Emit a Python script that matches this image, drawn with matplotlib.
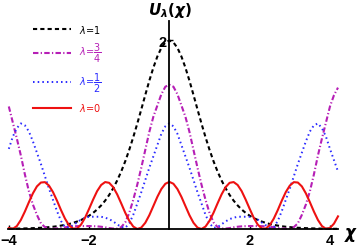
import numpy as np
import matplotlib
matplotlib.use('Agg')
from matplotlib import pyplot as plt

# chi from 0.0 to 4.2 (step 0.1); the potentials are even in chi
chi_half = np.round(np.arange(0, 4.25, 0.1), 1)

u_lam1 = [2.000, 1.980, 1.922, 1.830, 1.711, 1.573, 1.423, 1.269, 1.118, 0.974,
          0.840, 0.718, 0.610, 0.515, 0.432, 0.361, 0.301, 0.250, 0.207, 0.171,
          0.141, 0.116, 0.096, 0.079, 0.065, 0.053, 0.044, 0.036, 0.029, 0.024,
          0.020, 0.016, 0.013, 0.011, 0.009, 0.007, 0.006, 0.005, 0.004, 0.003,
          0.003, 0.002, 0.002]
u_lam34 = [1.53, 1.51, 1.43, 1.31, 1.19, 1.03, 0.84, 0.65, 0.47, 0.31,
           0.17, 0.07, 0.02, 0.005, 0.005, 0.01, 0.018, 0.024, 0.028, 0.030,
           0.031, 0.031, 0.031, 0.030, 0.028, 0.024, 0.018, 0.012, 0.006, 0.003,
           0.005, 0.02, 0.06, 0.15, 0.26, 0.40, 0.58, 0.78, 0.96, 1.13,
           1.30, 1.42, 1.50]
u_lam12 = [1.12, 1.09, 1.01, 0.89, 0.77, 0.65, 0.52, 0.39, 0.27, 0.15,
           0.06, 0.012, 0.02, 0.05, 0.08, 0.105, 0.12, 0.13, 0.13, 0.13,
           0.13, 0.117, 0.10, 0.07, 0.04, 0.015, 0.02, 0.085, 0.19, 0.31,
           0.43, 0.56, 0.69, 0.81, 0.93, 1.035, 1.10, 1.12, 1.07, 0.98,
           0.85, 0.73, 0.61]
u_lam0 = [0.500, 0.480, 0.424, 0.341, 0.243, 0.146, 0.066, 0.015, 0.000, 0.026,
          0.087, 0.173, 0.272, 0.367, 0.444, 0.490, 0.498, 0.467, 0.402, 0.312,
          0.214, 0.120, 0.047, 0.006, 0.004, 0.040, 0.110, 0.201, 0.301, 0.392,
          0.461, 0.497, 0.493, 0.452, 0.378, 0.284, 0.185, 0.096, 0.031, 0.002,
          0.011, 0.057, 0.134]

labels = [r'$\lambda$=1', r'$\lambda$=$\dfrac{3}{4}$', r'$\lambda$=$\dfrac{1}{2}$', r'$\lambda$=0']
colors = ['black', '#b61fb6', '#2a2aff', '#ee1111']
xticks = [-4, -2, 2, 4]
yticks = [2]


def mirror(half):
    # -4.0 ... -0.1 followed by 0.0 ... 4.2
    half = np.asarray(half)
    return np.concatenate([half[40:0:-1], half])


chi = np.concatenate([-chi_half[40:0:-1], chi_half])

fig = plt.figure(figsize=(3.57, 2.53), dpi=100)
ax = fig.add_axes([8/357, 23/253, 330/357, 208.3/253])

styles = [dict(ls=(0, (2.0, 1.5)), lw=1.5),
          dict(ls=(0, (2.6, 1.1, 0.6, 1.1)), lw=1.5),
          dict(ls=(0, (0.8, 1.6)), lw=1.4),
          dict(ls='-', lw=1.5)]
for u, lab, c, st in zip([u_lam1, u_lam34, u_lam12, u_lam0], labels, colors, styles):
    ax.plot(chi, mirror(u), color=c, label=lab, clip_on=False, **st)

ax.set_xlim(-4.02, 4.2)
ax.set_ylim(0, 2.21)

ax.spines['left'].set_position(('data', 0))
ax.spines['right'].set_visible(False)
ax.spines['top'].set_visible(False)
for s in ['left', 'bottom']:
    ax.spines[s].set_linewidth(1.3)
    ax.spines[s].set_zorder(3)

tick_font = dict(family='Liberation Sans', fontsize=10.5, fontweight='bold')
ax.set_xticks(xticks)
ax.set_xticklabels([f'\u2212{-t}' if t < 0 else str(t) for t in xticks], **tick_font)
ax.set_yticks(yticks)
ax.set_yticklabels([str(t) for t in yticks], **tick_font)
ax.tick_params(axis='x', direction='in', length=3, width=1, pad=3)
ax.tick_params(axis='y', direction='in', length=3, width=1, pad=2)

fig.text(351/357, 1 - 235/253, r'$\mathbfit{\chi}$', fontsize=12,
         ha='center', va='center')
fig.text(170/357, 1 - 11/253, r'$\mathbfit{U}_{\mathbfit{\lambda}}\mathbf{(}\mathbfit{\chi}\mathbf{)}$',
         fontsize=11, ha='center', va='center')

leg = ax.legend(loc='upper left', bbox_to_anchor=(33/357, 1 - 23.5/253),
                bbox_transform=fig.transFigure, frameon=False, fontsize=7,
                labelcolor='linecolor', handlelength=3.9, handletextpad=0.8,
                labelspacing=0.7, borderpad=0, borderaxespad=0)

fig.savefig('out.png', dpi=100)
